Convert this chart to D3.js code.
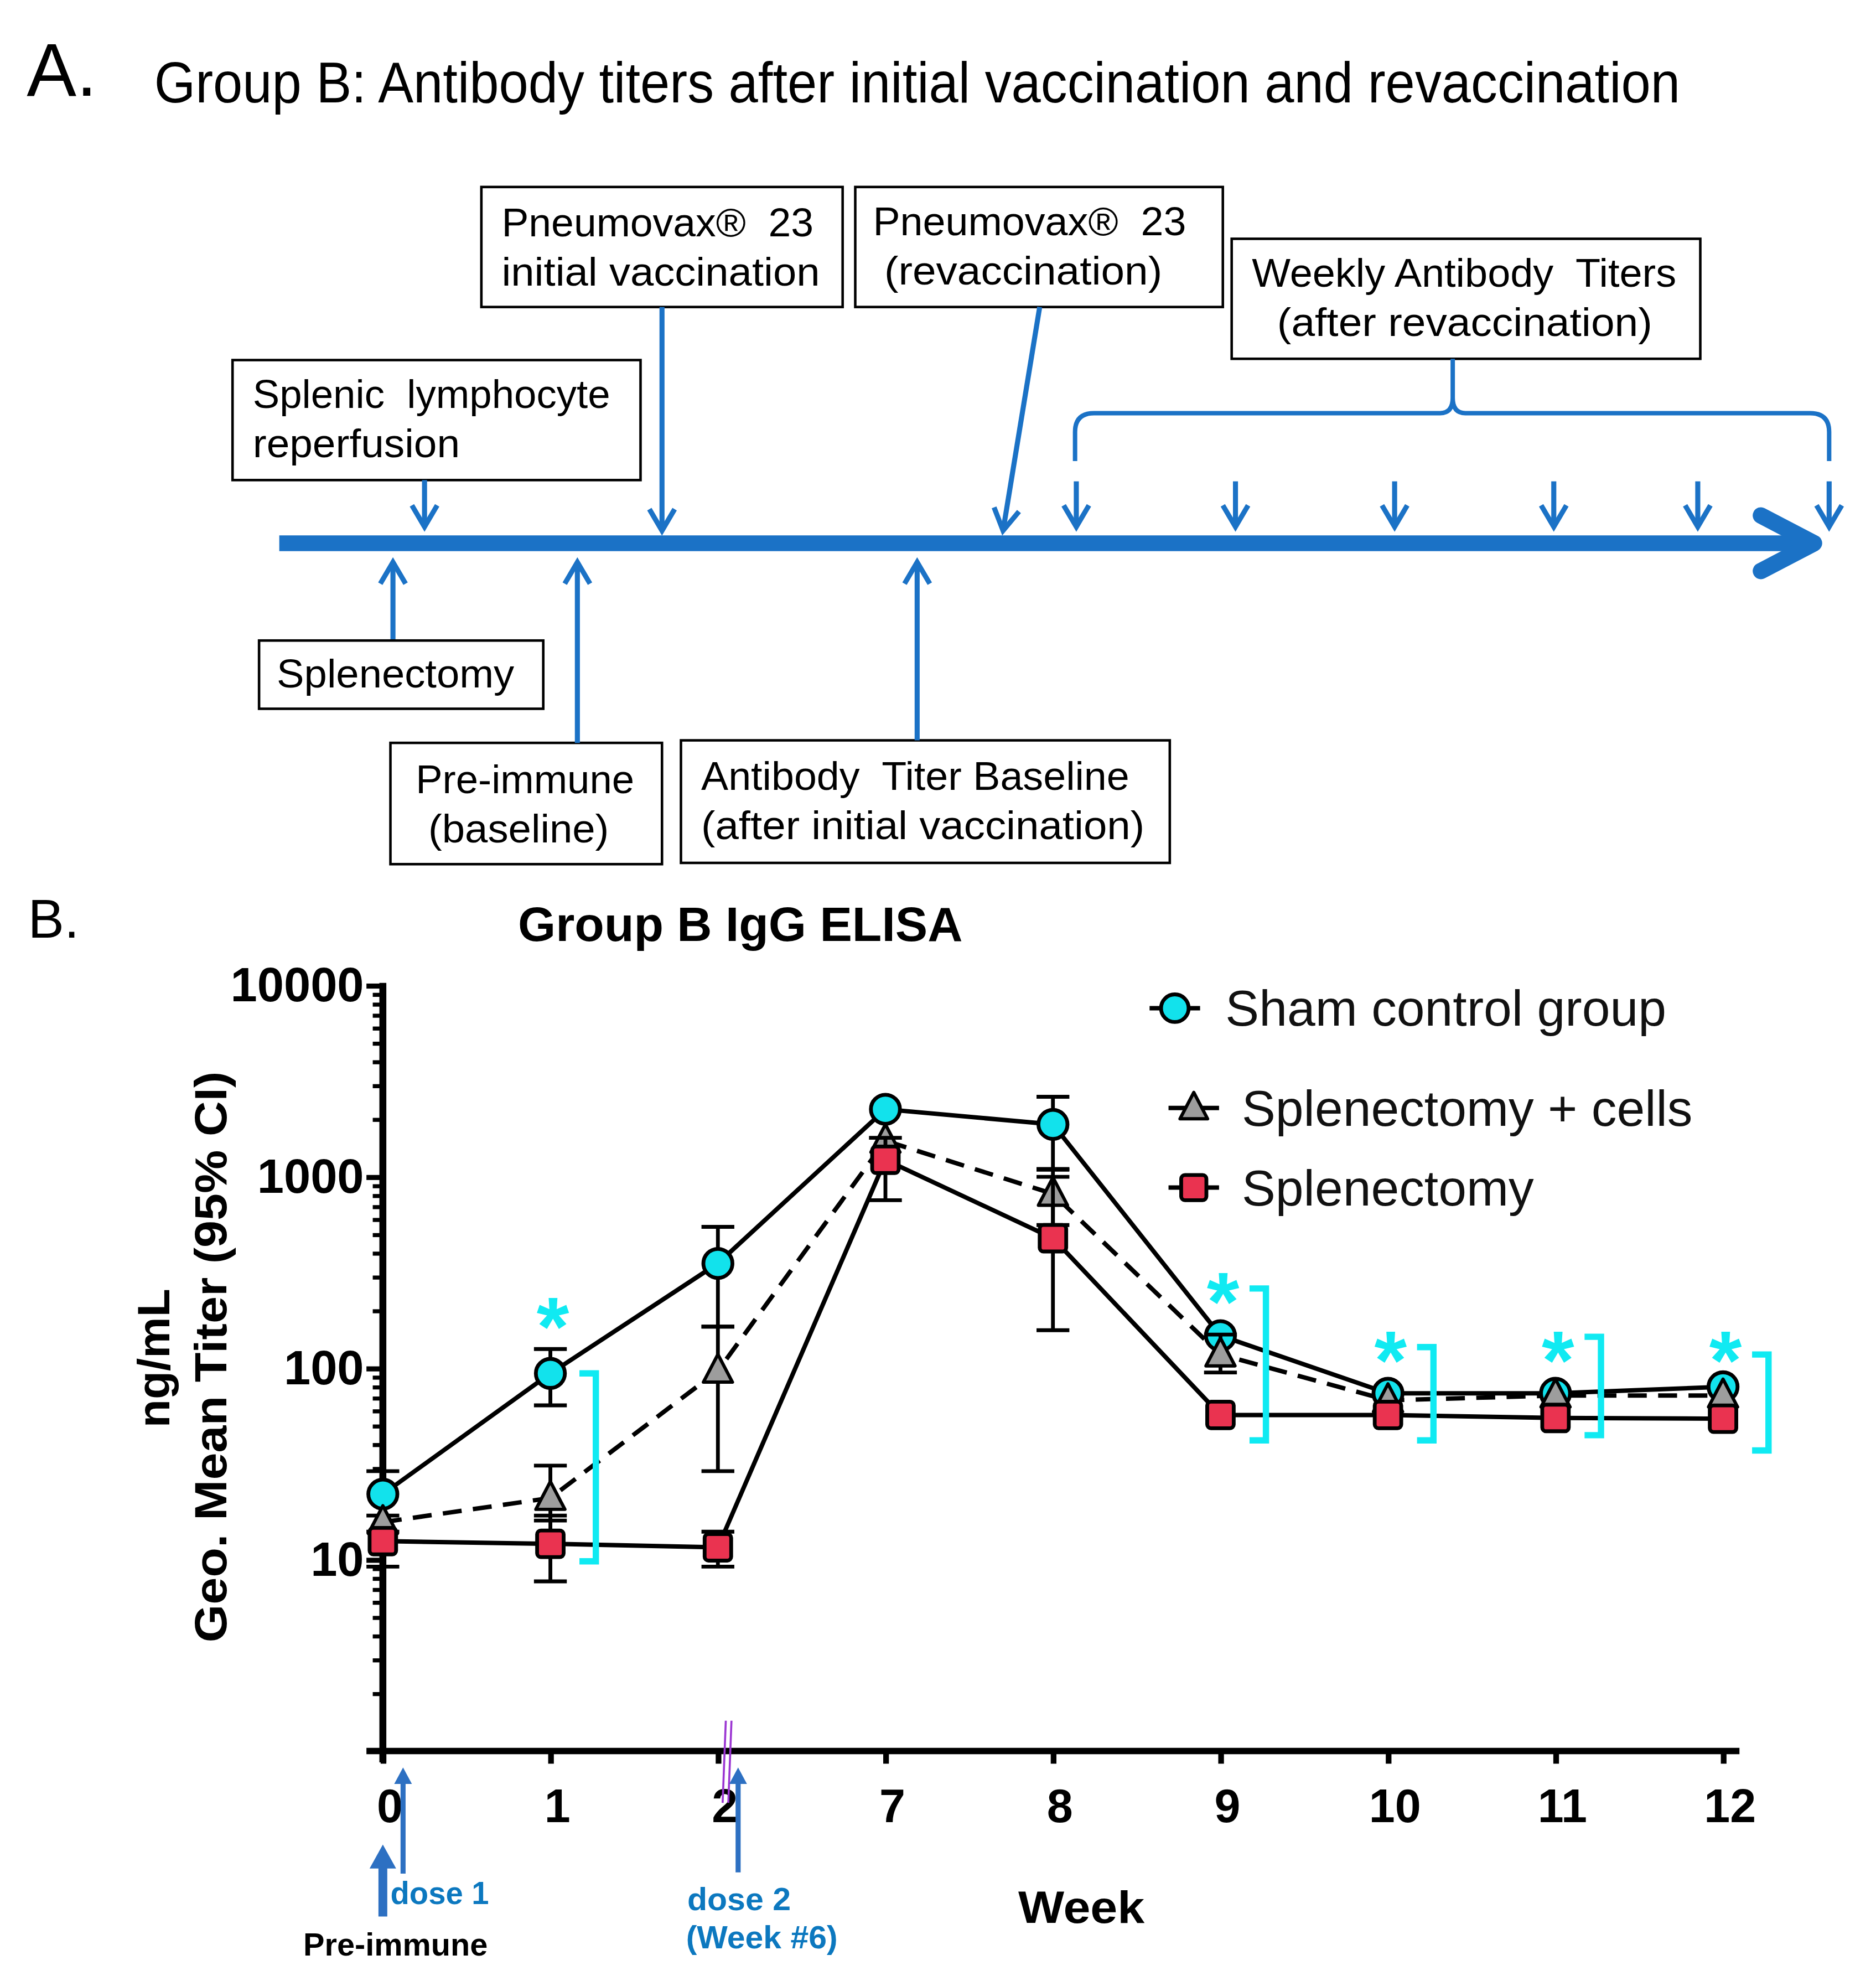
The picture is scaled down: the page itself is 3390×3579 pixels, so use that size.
<!DOCTYPE html>
<html>
<head>
<meta charset="utf-8">
<script src="https://cdn.jsdelivr.net/npm/d3@7"></script>
<style>
  body { margin: 0; background: #fff; }
  svg text { font-family: "Liberation Sans", Arial, sans-serif; }
</style>
</head>
<body>
<div id="fig"></div>
<script>
// ---- panel B data (geo. mean titer, ng/mL, with 95% CI where visible) ----
const weeks = ["0", "1", "2", "7", "8", "9", "10", "11", "12"];

const shamMean = [22, 94, 353, 2255, 1880, 148, 74, 74, 80];
const shamLo   = [17, 64, 165, null, 1100, null, null, null, null];
const shamHi   = [29, 126, 548, null, 2620, null, null, null, null];

const cellsMean = [15.7, 21, 97, 1543, 815, 118, 68, 72, 72];
const cellsLo   = [null, 16, 29, null, 560, 95, null, null, null];
const cellsHi   = [null, 31, 165, null, 1090, 150, null, null, null];

const splxMean = [12.5, 12.1, 11.6, 1228, 478, 57, 57, 55, 54.5];
const splxLo   = [9.2, 7.7, 9.2, 755, 158, null, null, null, null];
const splxHi   = [14, 17, 14, 1600, 1000, null, null, null, null];

const seriesNames = ["Sham control group", "Splenectomy + cells", "Splenectomy"];
const yTickValues = [10, 100, 1000, 10000];

// significance brackets: week, bottom / top of bracket, level of the asterisk
const sigWeeks  = ["1", "9", "10", "11", "12"];
const sigBottom = [9.8, 42, 42, 44.7, 37.2];
const sigTop    = [94, 261, 129, 146, 118];
const sigStar   = [207, 281, 138, 138, 138];

// ---- panel A timeline boxes ----
const boxes = [
  {x: 184, y: 285, w: 323, h: 95, lines: [["Splenic  lymphocyte", 200, 323, 283], ["reperfusion", 200, 362, 164]]},
  {x: 381, y: 148, w: 286, h: 95, lines: [["Pneumovax®  23", 397, 187, 247], ["initial vaccination", 397, 226, 252]]},
  {x: 677, y: 148, w: 291, h: 95, lines: [["Pneumovax®  23", 691, 186, 248], ["(revaccination)", 700, 225, 220]]},
  {x: 975, y: 189, w: 371, h: 95, lines: [["Weekly Antibody  Titers", 991, 227, 336], ["(after revaccination)", 1011, 266, 297]]},
  {x: 205, y: 507, w: 225, h: 54, lines: [["Splenectomy", 219, 544, 188]]},
  {x: 309, y: 588, w: 215, h: 96, lines: [["Pre-immune", 329, 628, 173], ["(baseline)", 339, 667, 143]]},
  {x: 539, y: 586, w: 387, h: 97, lines: [["Antibody  Titer Baseline", 555, 625, 339], ["(after initial vaccination)", 555, 664, 351]]}
];
const weeklyArrowX = [852, 978, 1104, 1230, 1344, 1448];

const BLUE = "#1b72c6";
const CYAN = "#10eaf2";
const FONT = "'Liberation Sans', Arial, sans-serif";

const svg = d3.select("#fig").append("svg")
  .attr("width", 3390).attr("height", 3579)
  .attr("viewBox", "0 0 1485 1568")
  .style("display", "block");

function txt(g, s, x, y, o) {
  o = o || {};
  const t = g.append("text").attr("x", x).attr("y", y).text(s)
    .attr("font-family", FONT)
    .attr("font-size", o.size || 32)
    .attr("font-weight", o.bold ? "bold" : "normal")
    .attr("fill", o.fill || "#000")
    .attr("text-anchor", o.anchor || "start")
    .style("white-space", "pre");
  if (o.len) t.attr("textLength", o.len).attr("lengthAdjust", "spacingAndGlyphs");
  if (o.transform) t.attr("transform", o.transform);
  return t;
}

// open V arrow (panel A)
function vArrow(g, x1, y1, x2, y2) {
  const dx = x2 - x1, dy = y2 - y1, L = Math.hypot(dx, dy);
  const ux = dx / L, uy = dy / L, px = -uy, py = ux;
  const hl = 17, hw = 10;
  g.append("line").attr("x1", x1).attr("y1", y1).attr("x2", x2).attr("y2", y2)
    .attr("stroke", BLUE).attr("stroke-width", 4);
  g.append("path")
    .attr("d", `M${x2 - ux * hl + px * hw},${y2 - uy * hl + py * hw} L${x2},${y2} L${x2 - ux * hl - px * hw},${y2 - uy * hl - py * hw}`)
    .attr("fill", "none").attr("stroke", BLUE).attr("stroke-width", 4);
}

// ================= Panel A =================
const gA = svg.append("g");
txt(gA, "A.", 21, 76, {size: 59});
txt(gA, "Group B: Antibody titers after initial vaccination and revaccination", 122, 81, {size: 45.5, len: 1208});

boxes.forEach(b => {
  gA.append("rect").attr("x", b.x).attr("y", b.y).attr("width", b.w).attr("height", b.h)
    .attr("fill", "#fff").attr("stroke", "#000").attr("stroke-width", 2);
  b.lines.forEach(l => txt(gA, l[0], l[1], l[2], {size: 31.5, len: l[3]}));
});

// main timeline
gA.append("line").attr("x1", 221).attr("y1", 430).attr("x2", 1430).attr("y2", 430)
  .attr("stroke", BLUE).attr("stroke-width", 12.5);
gA.append("path").attr("d", "M1394,408 L1436,430 L1394,452")
  .attr("fill", "none").attr("stroke", BLUE).attr("stroke-width", 13)
  .attr("stroke-linecap", "round").attr("stroke-linejoin", "round");

vArrow(gA, 336, 380, 336, 417);
vArrow(gA, 524, 243, 524, 420);
vArrow(gA, 823, 243, 794, 420);
vArrow(gA, 311, 506, 311, 445);
vArrow(gA, 457, 588, 457, 445);
vArrow(gA, 726, 586, 726, 445);
weeklyArrowX.forEach(xx => vArrow(gA, xx, 381, xx, 417));

// curly brace over weekly arrows
gA.append("path")
  .attr("d", "M851,365 L851,342 Q851,327 866,327 L1140,327 Q1150,327 1150,315 L1150,284 " +
             "M1150,315 Q1150,327 1160,327 L1433,327 Q1448,327 1448,342 L1448,365")
  .attr("fill", "none").attr("stroke", BLUE).attr("stroke-width", 3.5);

// ================= Panel B =================
const gB = svg.append("g");
txt(gB, "B.", 22, 742, {size: 43});
txt(gB, "Group B IgG ELISA", 586, 745, {size: 38, bold: true, anchor: "middle", len: 352});

const x = d3.scalePoint().domain(weeks).range([303, 1364]);
const y = d3.scaleLog().domain([1, 10000]).range([1386, 780]);

// minor ticks
const minors = [];
for (let k = 0; k < 4; k++) for (let m = 2; m <= 9; m++) minors.push(m * Math.pow(10, k));

const yMinor = gB.append("g").attr("transform", "translate(303,0)")
  .call(d3.axisLeft(y).tickValues(minors).tickSize(8).tickFormat(""));
yMinor.select(".domain").remove();
yMinor.selectAll("line").attr("stroke", "#000").attr("stroke-width", 3.2);

const yMajor = gB.append("g").attr("transform", "translate(303,0)")
  .call(d3.axisLeft(y).tickValues(yTickValues).tickSize(13).tickPadding(2).tickFormat(d3.format("d")));
yMajor.select(".domain").remove();
yMajor.selectAll("line").attr("stroke", "#000").attr("stroke-width", 4);
yMajor.selectAll("text").attr("font-size", 38).attr("font-weight", "bold").attr("fill", "#000")
  .attr("font-family", FONT);

const xAx = gB.append("g").attr("transform", "translate(0,1386)")
  .call(d3.axisBottom(x).tickSize(10).tickPadding(20));
xAx.select(".domain").remove();
xAx.selectAll("line").attr("stroke", "#000").attr("stroke-width", 4.5);
xAx.selectAll("text").attr("font-size", 37).attr("font-weight", "bold").attr("fill", "#000")
  .attr("dx", 5).attr("font-family", FONT);

// axis lines
gB.append("line").attr("x1", 303).attr("x2", 303).attr("y1", y(10000) - 2).attr("y2", 1395)
  .attr("stroke", "#000").attr("stroke-width", 5.5);
gB.append("line").attr("x1", 290).attr("x2", 1377).attr("y1", 1386).attr("y2", 1386)
  .attr("stroke", "#000").attr("stroke-width", 5);

// axis break mark
gB.append("path").attr("d", "M574.5,1362 L572,1427 M579,1362 L576.5,1427")
  .attr("fill", "none").attr("stroke", "#9b35d2").attr("stroke-width", 1.6);

// axis titles
txt(gB, "ng/mL", 0, 0, {size: 36, bold: true, anchor: "middle", len: 110, transform: "translate(134,1075) rotate(-90)"});
txt(gB, "Geo. Mean Titer (95% CI)", 0, 0, {size: 36, bold: true, anchor: "middle", len: 452, transform: "translate(179,1074) rotate(-90)"});
txt(gB, "Week", 856, 1522, {size: 36, bold: true, anchor: "middle", len: 100});

// dose arrows under the x axis
function fArrow(g, xx, yTip, yEnd, shaft, hw, hl) {
  g.append("line").attr("x1", xx).attr("x2", xx).attr("y1", yTip + hl - 1).attr("y2", yEnd)
    .attr("stroke", "#2d70c2").attr("stroke-width", shaft);
  g.append("path").attr("d", `M${xx},${yTip} L${xx + hw},${yTip + hl} L${xx - hw},${yTip + hl} Z`)
    .attr("fill", "#2d70c2");
}
fArrow(gB, x("0") + 16, 1399, 1483, 4, 7, 13);
fArrow(gB, x("0"), 1460, 1517, 7, 10.5, 19);
fArrow(gB, x("2") + 16, 1399, 1482, 4, 7, 13);
txt(gB, "dose 1", 309, 1507, {size: 25, bold: true, fill: "#0c78bf", len: 78});
txt(gB, "dose 2", 544, 1512, {size: 25, bold: true, fill: "#0c78bf", len: 82});
txt(gB, "(Week #6)", 543, 1542, {size: 25, bold: true, fill: "#0c78bf", len: 120});
txt(gB, "Pre-immune", 240, 1548, {size: 25, bold: true, len: 146});

// ---- series ----
const series = [
  {name: seriesNames[0], mean: shamMean, lo: shamLo, hi: shamHi, shape: "circle", fill: "#12e2ec", dash: null},
  {name: seriesNames[1], mean: cellsMean, lo: cellsLo, hi: cellsHi, shape: "triangle", fill: "#9d9d9d", dash: "15,9"},
  {name: seriesNames[2], mean: splxMean, lo: splxLo, hi: splxHi, shape: "square", fill: "#ea3350", dash: null}
];

function marker(g, shape, cx, cy, fill, scale) {
  scale = scale || 1;
  if (shape === "circle") {
    g.append("circle").attr("cx", cx).attr("cy", cy).attr("r", 11.5 * scale)
      .attr("fill", fill).attr("stroke", "#000").attr("stroke-width", 3);
  } else if (shape === "square") {
    const s = 21 * scale;
    g.append("rect").attr("x", cx - s / 2).attr("y", cy - s / 2).attr("width", s).attr("height", s)
      .attr("rx", 3).attr("fill", fill).attr("stroke", "#000").attr("stroke-width", 3);
  } else {
    const s = scale;
    g.append("path").attr("d", `M${cx},${cy - 13 * s} L${cx + 11.5 * s},${cy + 9 * s} L${cx - 11.5 * s},${cy + 9 * s} Z`)
      .attr("fill", fill).attr("stroke", "#000").attr("stroke-width", 2.6).attr("stroke-linejoin", "round");
  }
}

const line = d3.line().x((d, i) => x(weeks[i])).y(d => y(d));
const gLines = gB.append("g");
series.forEach(s => {
  gLines.append("path").attr("d", line(s.mean)).attr("fill", "none")
    .attr("stroke", "#000").attr("stroke-width", 3.5)
    .attr("stroke-dasharray", s.dash);
});

const gPts = gB.append("g");
series.forEach(s => {
  weeks.forEach((w, i) => {
    if (s.lo[i] == null) return;
    const cx = x(w), y1 = y(s.lo[i]), y2 = y(s.hi[i]);
    gPts.append("line").attr("x1", cx).attr("x2", cx).attr("y1", y1).attr("y2", y2)
      .attr("stroke", "#000").attr("stroke-width", 3);
    [y1, y2].forEach(yy => gPts.append("line").attr("x1", cx - 13).attr("x2", cx + 13)
      .attr("y1", yy).attr("y2", yy).attr("stroke", "#000").attr("stroke-width", 3));
  });
  s.mean.forEach((v, i) => marker(gPts, s.shape, x(weeks[i]), y(v), s.fill));
});

// significance brackets and asterisks
sigWeeks.forEach((w, i) => {
  const bx = x(w) + 36, yt = y(sigTop[i]), yb = y(sigBottom[i]);
  gB.append("path").attr("d", `M${bx - 13},${yt} L${bx},${yt} L${bx},${yb} L${bx - 13},${yb}`)
    .attr("fill", "none").attr("stroke", CYAN).attr("stroke-width", 5);
  txt(gB, "*", x(w) + 2, y(sigStar[i]) + 38, {size: 66, bold: true, fill: CYAN, anchor: "middle"});
});

// legend
const legendRows = [
  {x: 930, y: 798, tx: 970},
  {x: 945, y: 877, tx: 983},
  {x: 945, y: 940, tx: 983}
];
series.forEach((s, i) => {
  const r = legendRows[i];
  gB.append("line").attr("x1", r.x - 20).attr("x2", r.x + 20).attr("y1", r.y).attr("y2", r.y)
    .attr("stroke", "#000").attr("stroke-width", 3.5);
  marker(gB, s.shape, r.x, r.y, s.fill, 0.95);
  txt(gB, s.name, r.tx, r.y + 14, {size: 40, fill: "#111"});
});
</script>
</body>
</html>
